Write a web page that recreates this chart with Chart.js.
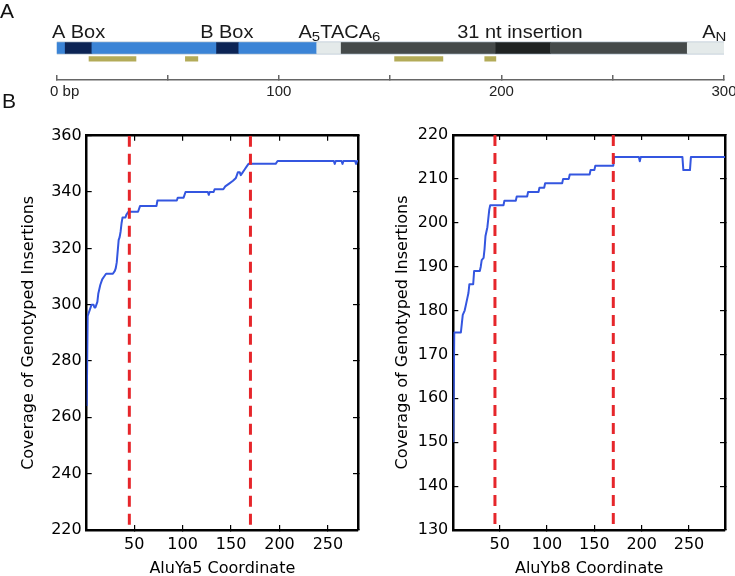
<!DOCTYPE html>
<html><head><meta charset="utf-8">
<script src="https://cdn.jsdelivr.net/npm/chart.js@4.4.0/dist/chart.umd.min.js"></script>
<style>
html,body{margin:0;padding:0;background:#fff;}
body{width:735px;height:576px;position:relative;overflow:hidden;}
canvas{position:absolute;}
.panel{position:absolute;font-family:"Liberation Sans",Arial,sans-serif;font-size:21px;color:#111;line-height:1;}
</style></head><body>
<canvas id="top" width="735" height="110" style="left:0;top:0;width:735px;height:110px"></canvas>
<canvas id="left" width="367" height="486" style="left:0;top:90px;width:367px;height:486px"></canvas>
<canvas id="right" width="368" height="486" style="left:367px;top:90px;width:368px;height:486px"></canvas>
<div class="panel" style="left:0px;top:0px">A</div>
<div class="panel" style="left:2px;top:90px">B</div>
<script>
// ---------- Panel A data (bp) ----------
const elemStarts = [0, 4, 16, 72, 82, 117, 128, 197.5, 222, 283.5];
const elemEnds   = [4, 16, 72, 82, 117, 128, 197.5, 222, 283.5, 301];
const elemKinds  = ['body', 'box', 'body', 'box', 'body', 'linker', 'ins', 'core', 'ins', 'tail'];
const probeStarts = [14.7, 58, 152, 192.5];
const probeEnds   = [35.8, 63.6, 173.7, 197.5];
const topTicks = [0, 50, 100, 150, 200, 250, 300];
const topTickLabels = ['0 bp', '', '100', '', '200', '', '300'];
const featureNames = [
  [['A Box', 0]],
  [['B Box', 0]],
  [['A', 0], ['5', 1], ['TACA', 0], ['6', 1]],
  [['31 nt insertion', 0]],
  [['A', 0], ['N', 1]]
];
const featureCenters = [10, 76.6, 127.2, 208.3, 295.6];

// ---------- Panel B data ----------
const ya5X = [1, 2, 4, 6, 8, 9, 10, 11, 12, 13, 15, 17, 19, 21, 28, 30, 31, 32, 33, 34, 35, 36, 37, 38, 41, 42, 44, 54, 56, 73, 74, 94, 95, 101, 103, 126, 127, 128, 132, 133, 142, 144, 148, 152, 155, 157, 159, 160, 162, 164, 166, 168, 196, 198, 256, 257, 258, 264, 265, 266, 278, 279, 280, 281];
const ya5Y = [264, 296, 298, 300, 300, 299, 299, 300, 301, 304, 307, 309, 310, 311, 311, 312, 313, 315, 319, 323, 324, 326, 329, 331, 331, 332, 333, 333, 335, 335, 337, 337, 338, 338, 340, 340, 339, 340, 340, 341, 341, 342, 343, 344, 345, 347, 347, 346, 347, 348, 349, 350, 350, 351, 351, 350, 351, 351, 350, 351, 351, 350, 351, 351];
const yb8X = [1, 2, 9, 10, 11, 13, 14, 16, 17, 18, 22, 23, 29, 30, 31, 33, 34, 35, 37, 38, 39, 40, 54, 55, 67, 68, 79, 80, 91, 92, 97, 98, 116, 117, 123, 124, 145, 146, 150, 151, 170, 171, 197, 198, 199, 243, 244, 251, 252, 288];
const yb8Y = [150, 175, 175, 177, 179, 180, 181, 183, 184, 186, 186, 189, 189, 190, 191.5, 192, 194, 197, 199, 201, 203, 204, 204, 205, 205, 206, 206, 207, 207, 208, 208, 209, 209, 210, 210, 211, 211, 212, 212, 213, 213, 215, 215, 214, 215, 215, 212, 212, 215, 215];
const boundaries = [45, 170];
const xTicks = [50, 100, 150, 200, 250];
const ya5YTicks = [220, 240, 260, 280, 300, 320, 340, 360];
const yb8YTicks = [130, 140, 150, 160, 170, 180, 190, 200, 210, 220];

// ---------- styles ----------
const KIND_COLORS = {body: '#3b84d6', box: '#0c2455', linker: '#e4eaea', ins: '#454a4a', core: '#1f2323', tail: '#e4eaea'};
const OLIVE = '#b3ab58';
const BLUE = '#3456e0';
const RED = '#e6262b';

Chart.defaults.font.family = 'DejaVu Sans';

const featureLabelPlugin = {
  id: 'featureLabels',
  afterDatasetsDraw(chart) {
    const ctx = chart.ctx, xs = chart.scales.x, ys = chart.scales.y;
    const baseline = ys.getPixelForValue(0) - 10.3;
    const SX = 1.11;
    const fontFor = sub => (sub ? '13.5px' : '18px') + ' "Liberation Sans", Arial, sans-serif';
    ctx.save();
    ctx.fillStyle = '#1a1a1a';
    ctx.textAlign = 'left';
    ctx.textBaseline = 'alphabetic';
    featureNames.forEach((parts, i) => {
      const widths = parts.map(([t, sub]) => { ctx.font = fontFor(sub); return ctx.measureText(t).width * SX; });
      const total = widths.reduce((a, b) => a + b, 0);
      let cx = xs.getPixelForValue(featureCenters[i]) - total / 2;
      parts.forEach(([t, sub], j) => {
        ctx.font = fontFor(sub);
        ctx.save();
        ctx.translate(cx, baseline + (sub ? 3.5 : 0));
        ctx.scale(SX, 1);
        ctx.fillText(t, 0, 0);
        ctx.restore();
        cx += widths[j];
      });
    });
    ctx.restore();
  }
};

new Chart(document.getElementById('top'), {
  type: 'bar',
  data: {
    datasets: [
      {data: elemStarts.map((s, i) => ({y: 0, x: [s, elemEnds[i]]})), backgroundColor: elemKinds.map(k => KIND_COLORS[k]), barThickness: 11, borderWidth: 0, grouped: false},
      {data: probeStarts.map((s, i) => ({y: 1, x: [s, probeEnds[i]]})), backgroundColor: OLIVE, barThickness: 4.5, borderWidth: 0, grouped: false},
      {data: [{y: 0, x: [elemStarts[0], elemEnds[elemEnds.length - 1]]}], backgroundColor: '#b7c6d4', barThickness: 12.5, borderWidth: 0, grouped: false}
    ]
  },
  options: {
    indexAxis: 'y', responsive: false, animation: false, devicePixelRatio: 1, events: [],
    layout: {padding: {left: 56.3, right: 11, top: 20, bottom: 0}},
    scales: {
      x: {
        type: 'linear', position: 'bottom', min: 0, max: 300,
        afterBuildTicks: s => { s.ticks = topTicks.map(v => ({value: v})); },
        afterFit: s => { s.height = 30; s.paddingLeft = 0; s.paddingRight = 0; },
        grid: {display: true, drawOnChartArea: false, drawTicks: true, tickLength: -5, color: '#666', lineWidth: 1.5},
        border: {display: true, color: '#666', width: 1.5},
        ticks: {
          autoSkip: false, maxRotation: 0, minRotation: 0, padding: 8, color: '#222',
          font: {family: 'Liberation Sans', size: 15},
          callback: (v, i) => (i === 0 ? '\u00a0\u00a0\u00a0\u00a0' : '') + topTickLabels[i]
        }
      },
      y: {type: 'linear', display: false, reverse: true, offset: false, min: -2.59, max: 2.96}
    },
    plugins: {legend: {display: false}, tooltip: {enabled: false}}
  },
  plugins: [featureLabelPlugin]
});

function lineChart(id, seriesX, seriesY, yTicks, xMax, xTitle, box) {
  const yMin = yTicks[0], yMax = yTicks[yTicks.length - 1];
  const datasets = boundaries.map(b => ({
    data: [{x: b, y: yMax}, {x: b, y: yMin}],
    borderColor: RED, borderWidth: 3, borderDash: [11, 7], pointRadius: 0, fill: false
  }));
  datasets.push({
    data: seriesX.map((x, i) => ({x: x, y: seriesY[i]})),
    borderColor: BLUE, borderWidth: 2, pointRadius: 0, tension: 0, fill: false, borderJoinStyle: 'round'
  });
  const tickGrid = {display: true, drawOnChartArea: false, drawTicks: true, tickLength: -5, color: '#000', lineWidth: 1.2};
  const frame = {display: true, color: '#000', width: 2.5};
  const font = {family: 'DejaVu Sans', size: 16};
  const xt = s => { s.ticks = xTicks.map(v => ({value: v})); };
  const yt = s => { s.ticks = yTicks.map(v => ({value: v})); };
  new Chart(document.getElementById(id), {
    type: 'line',
    data: {datasets},
    options: {
      responsive: false, animation: false, devicePixelRatio: 1, events: [],
      layout: {padding: {left: 0, right: box.padR, top: box.padT, bottom: 0}},
      scales: {
        x: {
          type: 'linear', position: 'bottom', min: 1, max: xMax, afterBuildTicks: xt,
          afterFit: s => { s.height = box.bottomH; s.paddingLeft = 0; s.paddingRight = 0; },
          grid: tickGrid, border: frame,
          ticks: {font, color: '#000', padding: 10.4, autoSkip: false, maxRotation: 0, minRotation: 0},
          title: {display: true, text: xTitle, font, color: '#000', padding: {top: 0, bottom: -2}}
        },
        x2: {
          type: 'linear', position: 'top', min: 1, max: xMax, afterBuildTicks: xt,
          afterFit: s => { s.height = 0; s.paddingLeft = 0; s.paddingRight = 0; },
          grid: tickGrid, border: frame, ticks: {display: false}
        },
        y: {
          type: 'linear', position: 'left', min: yMin, max: yMax, afterBuildTicks: yt,
          afterFit: s => { s.width = box.leftW; s.paddingTop = 0; s.paddingBottom = 0; },
          grid: tickGrid, border: frame,
          ticks: {font, color: '#000', padding: 10},
          title: {display: true, text: 'Coverage of Genotyped Insertions', font, color: '#000', padding: {top: box.titlePad, bottom: 0}}
        },
        y2: {
          type: 'linear', position: 'right', min: yMin, max: yMax, afterBuildTicks: yt,
          afterFit: s => { s.width = 0; s.paddingTop = 0; s.paddingBottom = 0; },
          grid: tickGrid, border: frame, ticks: {display: false}
        }
      },
      plugins: {legend: {display: false}, tooltip: {enabled: false}}
    }
  });
}

lineChart('left', ya5X, ya5Y, ya5YTicks, 281, 'AluYa5 Coordinate', {padR: 9, padT: 45.7, bottomH: 46, leftW: 86.7, titlePad: 19.4});
lineChart('right', yb8X, yb8Y, yb8YTicks, 288, 'AluYb8 Coordinate', {padR: 10, padT: 45, bottomH: 46, leftW: 86.3, titlePad: 26});
</script>
</body></html>
